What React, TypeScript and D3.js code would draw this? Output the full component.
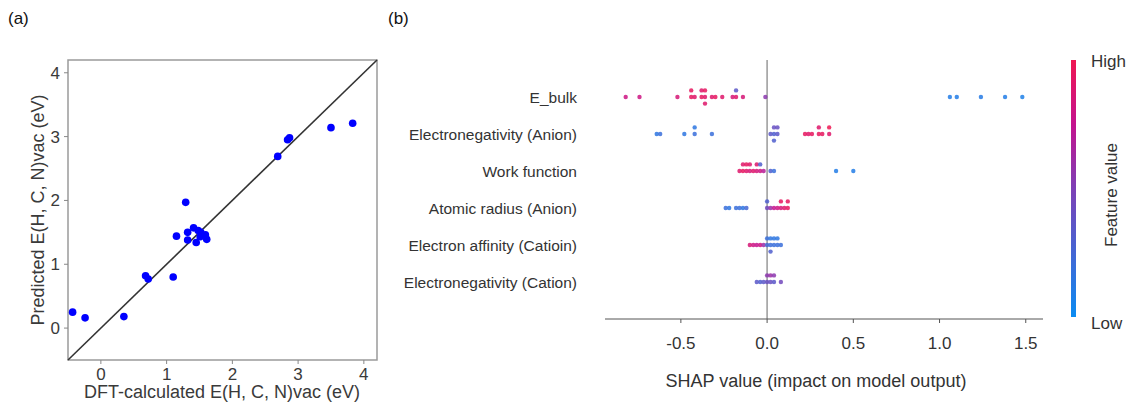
import React from "react";
import * as d3 from "d3";

// ---------- Panel (a) data ----------
const DFT_VALUES = [-0.43, -0.24, 0.35, 0.68, 0.72, 1.1, 1.15, 1.29, 1.32, 1.32, 1.41, 1.48, 1.45, 1.52, 1.51, 1.59, 1.61, 2.69, 2.84, 2.87, 3.5, 3.83];
const PRED_VALUES = [0.25, 0.16, 0.18, 0.82, 0.77, 0.8, 1.44, 1.97, 1.5, 1.38, 1.57, 1.53, 1.34, 1.5, 1.43, 1.46, 1.39, 2.69, 2.95, 2.98, 3.14, 3.21];
const A_TICKS = [0, 1, 2, 3, 4];
const A_DOMAIN = [-0.5, 4.2];

// ---------- Panel (b) data ----------
const FEATURES = [
  "E_bulk",
  "Electronegativity (Anion)",
  "Work function",
  "Atomic radius (Anion)",
  "Electron affinity (Catioin)",
  "Electronegativity (Cation)",
];
// [shap value, normalised feature value]
const SHAP_EBULK = [[-0.82, 0.8], [-0.74, 0.8], [-0.52, 0.85], [-0.44, 0.95], [-0.44, 0.95], [-0.42, 0.9], [-0.38, 0.95], [-0.38, 0.9], [-0.36, 0.9], [-0.36, 0.95], [-0.36, 0.9], [-0.32, 0.9], [-0.3, 0.95], [-0.26, 0.9], [-0.2, 0.85], [-0.18, 0.9], [-0.18, 0.35], [-0.14, 0.85], [-0.01, 0.55], [1.06, 0.1], [1.1, 0.1], [1.24, 0.12], [1.38, 0.1], [1.48, 0.08]];
const SHAP_EN_ANION = [[-0.64, 0.15], [-0.62, 0.2], [-0.48, 0.15], [-0.42, 0.2], [-0.42, 0.15], [-0.32, 0.2], [0.02, 0.35], [0.04, 0.3], [0.04, 0.4], [0.04, 0.3], [0.06, 0.35], [0.06, 0.4], [0.22, 0.95], [0.24, 0.9], [0.26, 0.95], [0.3, 0.95], [0.3, 0.9], [0.32, 0.95], [0.36, 0.9], [0.36, 1.0]];
const SHAP_WORK = [[-0.16, 0.9], [-0.14, 0.95], [-0.14, 0.9], [-0.12, 0.9], [-0.12, 0.95], [-0.1, 0.85], [-0.1, 0.9], [-0.08, 0.9], [-0.06, 0.85], [-0.06, 0.9], [-0.04, 0.8], [-0.04, 0.3], [-0.02, 0.7], [0.02, 0.3], [0.04, 0.2], [0.4, 0.1], [0.5, 0.1]];
const SHAP_RADIUS = [[-0.24, 0.2], [-0.22, 0.15], [-0.18, 0.2], [-0.16, 0.2], [-0.14, 0.15], [-0.12, 0.25], [0.0, 0.45], [0.0, 0.3], [0.02, 0.6], [0.04, 0.75], [0.06, 0.8], [0.08, 0.85], [0.08, 0.95], [0.1, 0.9], [0.12, 0.95], [0.12, 0.95]];
const SHAP_AFFINITY = [[-0.1, 0.85], [-0.08, 0.8], [-0.06, 0.75], [-0.04, 0.8], [-0.02, 0.6], [0.0, 0.25], [0.0, 0.2], [0.02, 0.2], [0.02, 0.15], [0.02, 0.3], [0.04, 0.2], [0.04, 0.15], [0.06, 0.2], [0.06, 0.15], [0.08, 0.2]];
const SHAP_EN_CATION = [[-0.06, 0.35], [-0.04, 0.3], [-0.02, 0.35], [0.0, 0.4], [0.0, 0.55], [0.02, 0.4], [0.02, 0.6], [0.04, 0.35], [0.04, 0.55], [0.08, 0.45]];
const SHAP_SERIES = [SHAP_EBULK, SHAP_EN_ANION, SHAP_WORK, SHAP_RADIUS, SHAP_AFFINITY, SHAP_EN_CATION];
const B_TICKS = [-0.5, 0, 0.5, 1.0, 1.5];
const B_TICK_LABELS = ["-0.5", "0.0", "0.5", "1.0", "1.5"];
const B_DOMAIN = [-0.94, 1.6];

const FONT = "'Liberation Sans', Arial, Helvetica, sans-serif";

const colorScale = d3
  .scaleLinear<string>()
  .domain([0, 0.5, 0.75, 1])
  .range(["#0b8cf2", "#7d40b6", "#c4138e", "#ef1752"])
  .interpolate(d3.interpolateRgb);

function swarm(points: number[][], binW: number) {
  const counts = new Map<number, number>();
  return points.map(([v, f]) => {
    const bin = Math.round(v / binW);
    const layer = counts.get(bin) || 0;
    counts.set(bin, layer + 1);
    const ys = Math.ceil(layer / 2) * ((layer % 2) * 2 - 1);
    return { v, f, ys };
  });
}

export default function App() {
  // Panel (a)
  const ax = d3.scaleLinear().domain(A_DOMAIN).range([68, 377]);
  const ay = d3.scaleLinear().domain(A_DOMAIN).range([360, 60]);

  // Panel (b)
  const bx = d3.scaleLinear().domain(B_DOMAIN).range([605, 1043]);
  const by = d3.scalePoint<string>().domain(FEATURES).range([97, 282]);
  const layerStep = 6.6;
  const cbTop = 60, cbBottom = 317, cbX = 1071, cbW = 5;
  const gradStops = d3.range(0, 1.0001, 0.05);

  return (
    <svg width={1132} height={403} style={{ position: "absolute", left: 0, top: 0, background: "#fff" }} fontFamily={FONT}>
      <rect x={0} y={0} width={1132} height={403} fill="#fff" />
      <text x={8} y={24} fontSize={17} fill="#111">(a)</text>
      <text x={388} y={24} fontSize={17} fill="#111">(b)</text>

      {/* Panel (a) */}
      <g>
        <rect x={ax(A_DOMAIN[0])} y={ay(A_DOMAIN[1])} width={ax(A_DOMAIN[1]) - ax(A_DOMAIN[0])} height={ay(A_DOMAIN[0]) - ay(A_DOMAIN[1])} fill="none" stroke="#9a9a9a" strokeWidth={1.5} />
        <line x1={ax(A_DOMAIN[0])} y1={ay(A_DOMAIN[0])} x2={ax(A_DOMAIN[1])} y2={ay(A_DOMAIN[1])} stroke="#333" strokeWidth={1.6} />
        {A_TICKS.map((t) => (
          <g key={"ax" + t}>
            <line x1={ax(t)} x2={ax(t)} y1={360} y2={364} stroke="#888" strokeWidth={1} />
            <text x={ax(t)} y={380} fontSize={17} fill="#3a3a3a" textAnchor="middle">{t}</text>
            <line x1={64} x2={68} y1={ay(t)} y2={ay(t)} stroke="#888" strokeWidth={1} />
            <text x={60} y={ay(t) + 6} fontSize={17} fill="#3a3a3a" textAnchor="end">{t}</text>
          </g>
        ))}
        {DFT_VALUES.map((d, i) => (
          <circle key={"p" + i} cx={ax(d)} cy={ay(PRED_VALUES[i])} r={3.8} fill="#0000ff" />
        ))}
        <text x={222} y={398} fontSize={18} fill="#3a3a3a" textAnchor="middle">DFT-calculated E(H, C, N)vac (eV)</text>
        <text transform={`translate(44,210) rotate(-90)`} fontSize={18} fill="#3a3a3a" textAnchor="middle">Predicted E(H, C, N)vac (eV)</text>
      </g>

      {/* Panel (b) */}
      <g>
        <line x1={bx(0)} x2={bx(0)} y1={60} y2={319} stroke="#999" strokeWidth={1.5} />
        {FEATURES.map((f) => (
          <text key={f} x={577} y={(by(f) as number) + 5.5} fontSize={15.5} fill="#333" textAnchor="end">{f}</text>
        ))}
        {SHAP_SERIES.map((series, i) =>
          swarm(series, 0.02).map((p, j) => (
            <circle key={`s${i}-${j}`} cx={bx(p.v)} cy={(by(FEATURES[i]) as number) - p.ys * layerStep} r={2.2} fill={colorScale(p.f)} fillOpacity={0.85} />
          ))
        )}
        <line x1={605} x2={1043} y1={319} y2={319} stroke="#555" strokeWidth={1} />
        {B_TICKS.map((t, i) => (
          <g key={"bx" + t}>
            <line x1={bx(t)} x2={bx(t)} y1={319} y2={323} stroke="#555" strokeWidth={1} />
            <text x={bx(t)} y={349} fontSize={17} fill="#333" textAnchor="middle">{B_TICK_LABELS[i]}</text>
          </g>
        ))}
        <text x={816} y={387} fontSize={18} fill="#333" textAnchor="middle">SHAP value (impact on model output)</text>

        {/* colorbar */}
        <defs>
          <linearGradient id="cb" x1="0" y1="1" x2="0" y2="0">
            {gradStops.map((s) => (
              <stop key={s} offset={s} stopColor={colorScale(s)} />
            ))}
          </linearGradient>
        </defs>
        <rect x={cbX} y={cbTop} width={cbW} height={cbBottom - cbTop} fill="url(#cb)" />
        <text x={1091} y={67} fontSize={17} fill="#333">High</text>
        <text x={1091} y={329} fontSize={17} fill="#333">Low</text>
        <text transform={`translate(1117,195) rotate(-90)`} fontSize={17} fill="#333" textAnchor="middle">Feature value</text>
      </g>
    </svg>
  );
}
